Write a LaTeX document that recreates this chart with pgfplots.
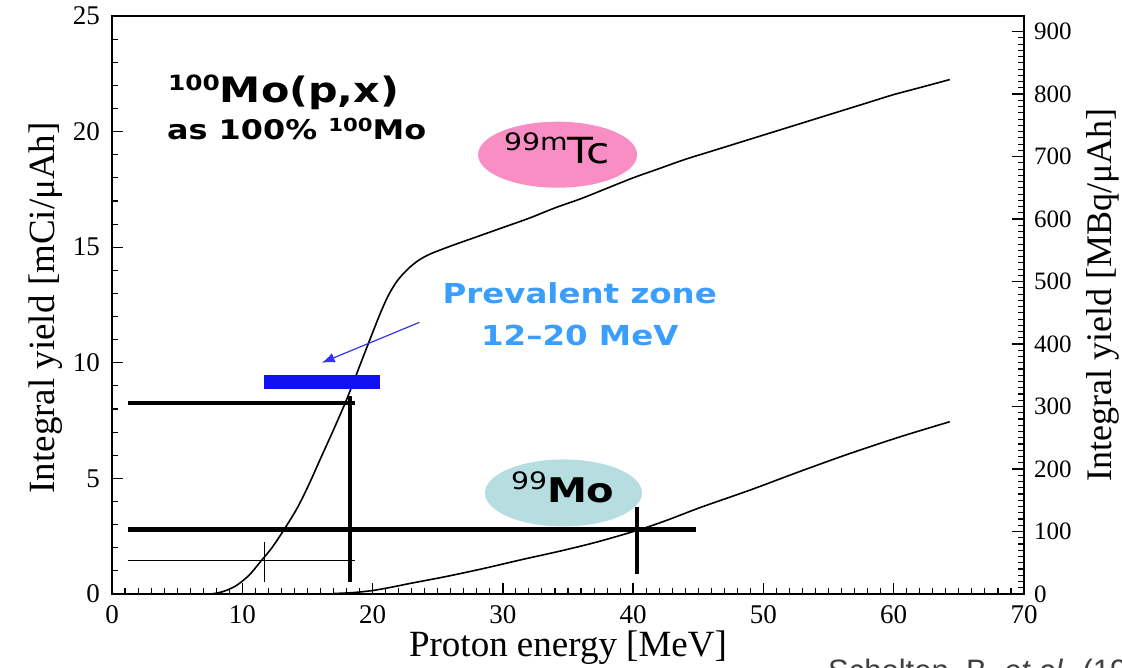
\documentclass[border=0pt]{standalone}
\usepackage{fontspec}
\setmainfont{Liberation Serif}
\newfontfamily\vb{DejaVu Sans}
\newfontfamily\arl{Liberation Sans}
\usepackage{pgfplots}
\pgfplotsset{compat=1.18}
\usetikzlibrary{shapes.geometric,arrows.meta}
\definecolor{tcpink}{RGB}{249,142,196}
\definecolor{moblue}{RGB}{182,222,225}
\definecolor{zoneblue}{RGB}{58,158,255}
\definecolor{barblue}{RGB}{16,16,240}
\definecolor{arrowblue}{RGB}{50,50,240}
\newcommand{\sx}[1]{\scalebox{1.18}[1]{#1}}

\pgfplotstableread{
E Y
7.6 0
8.5 0.1
9.5 0.35
10.5 0.8
11.4 1.4
12.3 2.02
13.2 2.78
14.2 3.7
15.1 4.72
16 5.85
17 7.1
18 8.4
19 9.85
20 11.3
20.6 12.15
21.2 12.9
21.9 13.55
22.7 14.05
23.5 14.42
24.4 14.7
26 15.05
28 15.45
30 15.85
32 16.25
34 16.7
36 17.1
38 17.55
40 18.0
42 18.4
44 18.8
46 19.15
48 19.5
50 19.85
52 20.2
54 20.55
56 20.9
58 21.25
60 21.6
62 21.9
64.3 22.25
}\tcdata

\pgfplotstableread{
E Y
17 0.02
18.5 0.06
20 0.15
21.5 0.3
23 0.47
25.6 0.75
28.5 1.1
31.4 1.48
34.5 1.87
37.3 2.26
40.3 2.75
42.5 3.17
45.2 3.75
49 4.5
52.8 5.3
56.5 6.05
60.5 6.8
64.3 7.45
}\modata

\begin{document}
\begin{tikzpicture}
\useasboundingbox (0,0) rectangle (1122pt,668pt);
\begin{axis}[
  at={(112pt,74pt)}, anchor=south west,
  width=912pt, height=578pt, scale only axis,
  xmin=0, xmax=70, ymin=0, ymax=25,
  xtick pos=left, ytick pos=left, tick align=inside,
  xtick={0,10,...,70}, ytick={0,5,...,25},
  minor x tick num=9, minor y tick num=4,
  major tick length=11pt, minor tick length=6pt,
  major tick style={draw=black, line width=1.3pt},
  minor tick style={draw=black, line width=1.1pt},
  axis line style={line width=1.6pt},
  /pgf/number format/assume math mode=true,
  ticklabel style={font=\fontsize{27}{27}\selectfont},
  yticklabel style={inner sep=0pt, xshift=-12pt},
  xticklabel style={inner sep=0pt, yshift=-11pt},
  xlabel={Proton energy [MeV]},
  ylabel={Integral yield [mCi/μAh]},
  label style={font=\fontsize{37}{40}\selectfont},
  xlabel style={at={(axis description cs:0.5,-0.093)}, anchor=center},
  ylabel style={at={(axis description cs:-0.073,0.495)}, anchor=center},
  clip=false,
]
% curves
\addplot[black, line width=1.6pt, smooth, tension=0.5] table[x=E,y=Y] {\tcdata};
\addplot[black, line width=1.6pt, smooth, tension=0.5] table[x=E,y=Y] {\modata};
% guide lines
\addplot[black, line width=4.3pt] coordinates {(1.2,8.27) (18.65,8.27)};
\addplot[black, line width=4.6pt] coordinates {(18.27,8.55) (18.27,0.52)};
\addplot[black, line width=4.6pt] coordinates {(1.2,2.78) (44.8,2.78)};
\addplot[black, line width=4.6pt] coordinates {(40.3,3.75) (40.3,0.85)};
\addplot[black, line width=1pt] coordinates {(1.2,1.43) (18.65,1.43)};
\addplot[black, line width=1pt] coordinates {(11.7,2.25) (11.7,0.52)};
% prevalent zone bar
\addplot[barblue, line width=14pt] coordinates {(11.7,9.18) (20.6,9.18)};
\addplot[arrowblue, line width=1.2pt, -{Latex[length=13pt,width=10pt]}] coordinates {(23.6,11.75) (16.1,10.0)};
% annotations
\node[anchor=base west, inner sep=0] at (axis cs:4.3,21.25)
  {\sx{\vb\bfseries\fontsize{35}{35}\selectfont\raisebox{12pt}{\fontsize{21}{21}\selectfont 100}Mo(p,x)}};
\node[anchor=base west, inner sep=0] at (axis cs:4.22,19.65)
  {\sx{\vb\bfseries\fontsize{27}{27}\selectfont as 100\% \raisebox{8pt}{\fontsize{18}{18}\selectfont 100}Mo}};
\node[ellipse, fill=tcpink, minimum width=159pt, minimum height=66pt, inner sep=0] at (axis cs:34.2,19.0) {};
\node[anchor=base, inner sep=0] at (axis cs:34.15,18.6)
  {\sx{\vb\fontsize{36}{36}\selectfont\raisebox{13pt}{\fontsize{24}{24}\selectfont 99m}Tc}};
\node[ellipse, fill=moblue, minimum width=157pt, minimum height=67pt, inner sep=0] at (axis cs:34.65,4.37) {};
\node[anchor=base, inner sep=0] at (axis cs:34.6,3.94)
  {\sx{\vb\fontsize{34}{34}\selectfont\raisebox{13pt}{\fontsize{24}{24}\selectfont 99}\textbf{Mo}}};
\node[anchor=base, inner sep=0, text=zoneblue] at (axis cs:35.9,12.55)
  {\sx{\vb\bfseries\fontsize{27.5}{27.5}\selectfont Prevalent zone}};
\node[anchor=base, inner sep=0, text=zoneblue] at (axis cs:35.9,10.74)
  {\sx{\vb\bfseries\fontsize{27.5}{27.5}\selectfont 12–20 MeV}};
\end{axis}
\begin{axis}[
  at={(112pt,74pt)}, anchor=south west,
  width=912pt, height=578pt, scale only axis,
  xmin=0, xmax=70, ymin=0, ymax=925,
  xtick=\empty, ytick pos=right, tick align=inside,
  ytick={0,100,...,900},
  minor y tick num=9,
  major tick length=12pt, minor tick length=6pt,
  major tick style={draw=black, line width=1.3pt},
  minor tick style={draw=black, line width=1.1pt},
  axis line style={line width=1.6pt},
  /pgf/number format/assume math mode=true,
  ticklabel style={font=\fontsize{25}{25}\selectfont},
  yticklabel style={inner sep=0pt, xshift=10pt},
  ylabel={Integral yield [MBq/μAh]},
  label style={font=\fontsize{36}{40}\selectfont},
  ylabel style={at={(axis description cs:1.086,0.517)}, anchor=center, rotate=0},
]
\addplot[draw=none] coordinates {(0,0)};
\end{axis}
\node[anchor=base west, inner sep=0, text=black!75] at (828pt,-13.5pt)
  {\arl\fontsize{31}{31}\selectfont Scholten, B. \textit{et al.} (1999)};
\end{tikzpicture}
\end{document}
